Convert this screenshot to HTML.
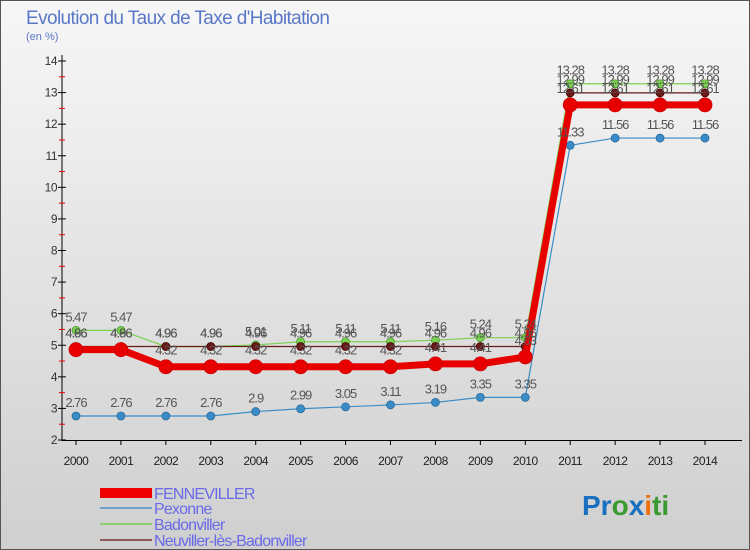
<!DOCTYPE html>
<html><head><meta charset="utf-8"><style>
body{margin:0;}
#wrap{width:750px;height:550px;position:relative;overflow:hidden;background:linear-gradient(#f7f7f7,#cfcfcf);font-family:"Liberation Sans",sans-serif;}
</style></head><body>
<div id="wrap">
<svg id="svg" width="750" height="550" style="position:absolute;left:0;top:0">
<rect x="0.5" y="0.5" width="749" height="549" fill="none" stroke="#555"/>
<text x="26" y="24" font-size="19" fill="#5a78c8" letter-spacing="-0.6">Evolution du Taux de Taxe d'Habitation</text>
<text x="26" y="40" font-size="11" fill="#5a78c8">(en %)</text>
<g id="axes"></g><g id="series"></g><g id="labels"></g>
<g>
<rect x="100" y="488" width="52" height="10" fill="#e00"/>
<line x1="100" y1="508" x2="152" y2="508" stroke="#6fa0c8" stroke-width="2"/>
<line x1="100" y1="524" x2="152" y2="524" stroke="#8ccf70" stroke-width="2"/>
<line x1="100" y1="540" x2="152" y2="540" stroke="#8a5a5a" stroke-width="2"/>
<text x="154" y="499" font-size="16" letter-spacing="-0.8" fill="#6a6ae8">FENNEVILLER</text>
<text x="154" y="514" font-size="16" letter-spacing="-0.8" fill="#6a6ae8">Pexonne</text>
<text x="154" y="530" font-size="16" letter-spacing="-0.8" fill="#6a6ae8">Badonviller</text>
<text x="154" y="546" font-size="16" letter-spacing="-0.8" fill="#6a6ae8">Neuviller-lès-Badonviller</text>
</g>
<text x="582" y="515" font-size="28" font-weight="bold"><tspan fill="#1a70c0">Pr</tspan><tspan fill="#3a9a30">o</tspan><tspan fill="#1a70c0">x</tspan><tspan fill="#f07010">i</tspan><tspan fill="#3a9a30">ti</tspan></text>
</svg>
</div>
<script>
const years=[2000,2001,2002,2003,2004,2005,2006,2007,2008,2009,2010,2011,2012,2013,2014];
const fenneviller=[4.86,4.86,4.32,4.32,4.32,4.32,4.32,4.32,4.41,4.41,4.63,12.61,12.61,12.61,12.61];
const pexonne=[2.76,2.76,2.76,2.76,2.9,2.99,3.05,3.11,3.19,3.35,3.35,11.33,11.56,11.56,11.56];
const badonviller=[5.47,5.47,4.96,4.96,5.01,5.11,5.11,5.11,5.16,5.24,5.24,13.28,13.28,13.28,13.28];
const neuviller=[4.96,4.96,4.96,4.96,4.96,4.96,4.96,4.96,4.96,4.96,4.96,12.99,12.99,12.99,12.99];
const yTicks=[2,3,4,5,6,7,8,9,10,11,12,13,14];
const NS="http://www.w3.org/2000/svg";
const xS=i=>76+i*(705-76)/(years.length-1);
const yS=v=>440-(v-2)*(440-61)/12;
function mk(tag,attrs,parent,text){const e=document.createElementNS(NS,tag);for(const k in attrs)e.setAttribute(k,attrs[k]);if(text!==undefined)e.textContent=text;parent.appendChild(e);return e;}
const axes=document.getElementById('axes'),ser=document.getElementById('series'),lab=document.getElementById('labels');
let a=mk('line',{x1:62,y1:55,x2:62,y2:441,stroke:'#000'},axes);

a=mk('line',{x1:62,y1:440.5,x2:742,y2:440.5,stroke:'#000'},axes);

yTicks.forEach(t=>{const y=yS(t);
 let l=mk('line',{x1:58,y1:y,x2:66,y2:y,stroke:'#000'},axes);
 
 let tx=mk('text',{x:57,y:y+4,'font-size':12,fill:'#333','text-anchor':'end','letter-spacing':'-0.5'},axes,String(t));
 
 if(t<14){let m=mk('line',{x1:59,y1:yS(t+0.5),x2:65,y2:yS(t+0.5),stroke:'#e00'},axes);
 }
});
years.forEach((yr,i)=>{const x=xS(i);
 let l=mk('line',{x1:x,y1:440,x2:x,y2:445,stroke:'#000'},axes);
 
 let t=mk('text',{x:x,y:465,'font-size':12,fill:'#222','text-anchor':'middle','letter-spacing':'-0.5'},axes,String(yr));
 
});
function draw(name,vals,color,w,r,stroke){
 const pts=vals.map((v,i)=>xS(i)+','+yS(v)).join(' ');
 let p=mk('polyline',{points:pts,fill:'none',stroke:color,'stroke-width':w,'stroke-linejoin':'round'},ser);
 
 vals.forEach((v,i)=>{let c=mk('circle',{cx:xS(i),cy:yS(v),r:r,fill:color,stroke:stroke,'stroke-width':0.8},ser);
  
  let t=mk('text',{x:xS(i),y:yS(v)-(r+5),'font-size':13,fill:'#555','text-anchor':'middle','letter-spacing':'-1'},lab,String(v));
  });
}
draw('pexonne',pexonne,'#3a8cc8',1.2,4,'#2a6a9a');
draw('badonviller',badonviller,'#7ad050',1.2,4,'#4a9a30');
draw('neuviller',neuviller,'#6a1818',1.2,4,'#400');
draw('fenneviller',fenneviller,'#e80000',7,7,'#c00');
</script>
</body></html>
